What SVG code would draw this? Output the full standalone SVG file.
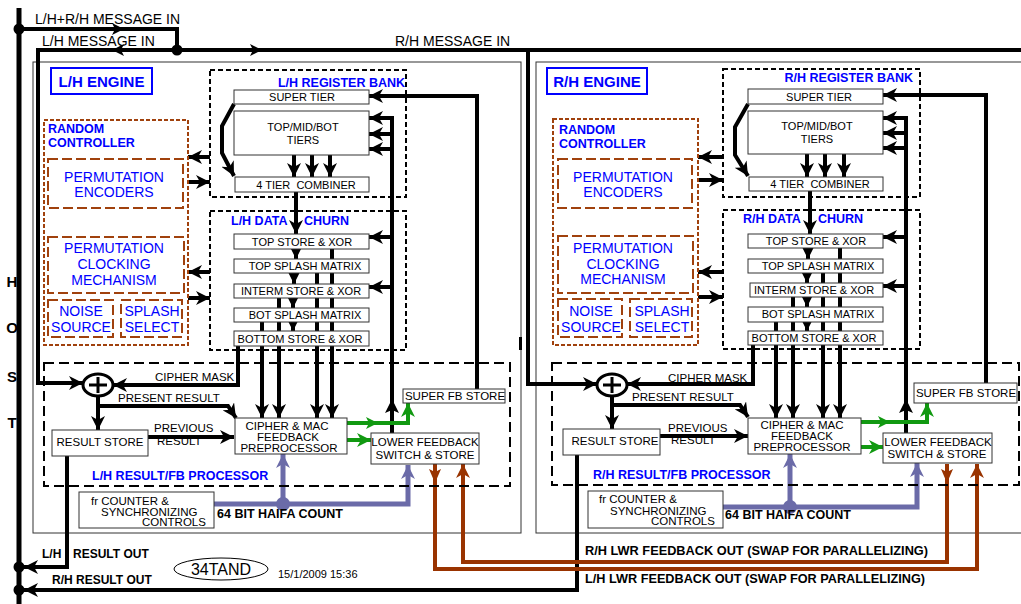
<svg xmlns="http://www.w3.org/2000/svg" width="1021" height="604" viewBox="0 0 1021 604">
<style>
text{font-family:"Liberation Sans",Arial,sans-serif;fill:#000}
.s{font-size:11px}
.m{font-size:11.5px}
.h{font-size:14px}
.c{text-anchor:middle}
.e{text-anchor:end}
.b{font-weight:bold;fill:#0000ff;font-size:12.5px}
.eng{font-weight:bold;fill:#0000ff;font-size:15px;text-anchor:middle}
.bk{font-weight:bold;font-size:12.5px}
.host{font-weight:bold;font-size:15px;text-anchor:middle}
.bo{font-weight:bold;font-size:12px}
.pb{font-size:14px;fill:#0000ff;text-anchor:middle}
.bx{fill:#fff;stroke:#333;stroke-width:1}
.eb{fill:none;stroke:#333;stroke-width:1}
.lb{fill:none;stroke:#0000ff;stroke-width:2}
.dk{fill:none;stroke:#000;stroke-width:2;stroke-dasharray:5,3}
.dr{fill:none;stroke:#000;stroke-width:2;stroke-dasharray:10,5}
.rc{fill:none;stroke:#a0410d;stroke-width:2;stroke-dasharray:4,2}
.ri{fill:none;stroke:#a0410d;stroke-width:2;stroke-dasharray:10,4}
.k{fill:none;stroke:#000;stroke-width:4}
.ka{fill:none;stroke:#000;stroke-width:4;marker-end:url(#a)}
.ga{fill:none;stroke:#119911;stroke-width:4;marker-end:url(#ag)}
.pa{fill:none;stroke:#6b6ba8;stroke-width:5;marker-end:url(#ap)}
.ba{fill:none;stroke:#993300;stroke-width:4;marker-end:url(#ab)}
.xor{fill:#fff;stroke:#000;stroke-width:3}
</style>
<defs>
<marker id="a" viewBox="0 0 14 14" refX="14" refY="7" markerWidth="14" markerHeight="14" markerUnits="userSpaceOnUse" orient="auto"><path d="M0,0 L14,7 L0,14 L4,7z" fill="#000"/></marker>
<marker id="ag" viewBox="0 0 14 14" refX="14" refY="7" markerWidth="14" markerHeight="14" markerUnits="userSpaceOnUse" orient="auto"><path d="M0,0 L14,7 L0,14 L4,7z" fill="#119911"/></marker>
<marker id="ap" viewBox="0 0 14 14" refX="14" refY="7" markerWidth="14" markerHeight="14" markerUnits="userSpaceOnUse" orient="auto"><path d="M0,0 L14,7 L0,14 L4,7z" fill="#6b6ba8"/></marker>
<marker id="ab" viewBox="0 0 14 14" refX="14" refY="7" markerWidth="14" markerHeight="14" markerUnits="userSpaceOnUse" orient="auto"><path d="M0,0 L14,7 L0,14 L4,7z" fill="#993300"/></marker>
</defs>
<rect width="1021" height="604" fill="#fff"/>

<!-- engine frames (background) -->
<g id="lh-engine-frame"><rect class="eb" x="33" y="62" width="488" height="471"/><rect x="519" y="337" width="3" height="13" fill="#000"/></g>
<g id="rh-engine-frame"><rect class="eb" x="536" y="62" width="495" height="471"/></g>

<!-- connectors -->
<g id="connectors">
<path d="M19,8 V604" fill="none" stroke="#000" stroke-width="5"/>
<path class="k" d="M19,29 H177 V50"/>
<path class="ka" d="M177,50 H38 V383 H83"/>
<path class="k" d="M177,50 H1021"/>
<path class="ka" d="M528,50 V384 H597"/>
<polygon points="124,29 112,23 115,29 112,35"/>
<polygon points="112,50 124,44 121,50 124,56"/>
<polygon points="262,50 250,44 253,50 250,56"/>
<circle cx="19" cy="29" r="5.5"/><circle cx="177" cy="50" r="5.5"/>
<circle cx="19" cy="567" r="5.5"/><circle cx="19" cy="590" r="5.5"/>
<path class="ka" d="M67,456 V567 H24"/>
<path class="ka" d="M577,455 V590 H24"/>

<!-- L/H internal -->
<path class="ka" d="M238,346 V385 H113"/>
<path class="ka" d="M98,396 V430"/>
<path class="ka" d="M98,406 H228 L236,418"/>
<path class="ka" d="M148,437 H234"/>
<path class="ka" d="M262,322 V418"/>
<path class="ka" d="M279,298 V418"/>
<path class="ka" d="M317,273 V418"/>
<path class="ka" d="M332,249 V418"/>
<path class="ka" d="M296,192 V234"/>
<path class="ka" d="M296,249 V259"/>
<path class="ka" d="M294,273 V284"/>
<path class="ka" d="M293,298 V308"/>
<path class="ka" d="M293,322 V331"/>
<path class="ka" d="M294,155 V177"/>
<path class="ka" d="M312,155 V177"/>
<path class="ka" d="M330,155 V177"/>
<path class="ka" d="M234,104 L222,126 V153 L234,176"/>
<path class="ka" d="M392,433 V118 H369"/>
<path class="ka" d="M392,134 H369"/>
<path class="ka" d="M392,149 H369"/>
<path class="ka" d="M392,237 H369"/>
<path class="ka" d="M392,287 H369"/>
<polygon points="392,399 385,413 392,410 399,413"/>
<path class="ka" d="M477,389 V96 H369"/>
<path class="ka" d="M210,157 H188"/>
<path class="ka" d="M188,182 H210"/>
<path class="ka" d="M210,272 H188"/>
<path class="ka" d="M188,298 H210"/>
<path class="ga" d="M347,423 H408 V403"/>
<polygon points="378,423 366,417 369,423 366,429" fill="#119911"/>
<path class="ga" d="M347,440 H371"/>
<path class="pa" d="M214,504 H408 V465"/>
<path class="pa" d="M283,504 V454"/>
<circle cx="283" cy="504" r="7" fill="#6b6ba8"/>

<!-- brown swap lines -->
<path class="ba" d="M435,464 V569 H977 V464"/>
<polygon points="435,483 429,469 435,472 441,469" fill="#993300"/>
<path class="ba" d="M947,464 V562 H463 V464"/>
<polygon points="947,483 941,469 947,472 953,469" fill="#993300"/>

<!-- R/H internal -->
<path class="ka" d="M753,345 V384 H627"/>
<path class="ka" d="M612,395 V429"/>
<path class="ka" d="M612,405 H740 L748,417"/>
<path class="ka" d="M660,436 H748"/>
<path class="ka" d="M776,322 V418"/>
<path class="ka" d="M793,297 V418"/>
<path class="ka" d="M823,273 V418"/>
<path class="ka" d="M840,248 V418"/>
<path class="ka" d="M810,191 V234"/>
<path class="ka" d="M808,248 V259"/>
<path class="ka" d="M807,273 V283"/>
<path class="ka" d="M807,297 V307"/>
<path class="ka" d="M807,322 V331"/>
<path class="ka" d="M807,154 V177"/>
<path class="ka" d="M825,154 V177"/>
<path class="ka" d="M844,154 V177"/>
<path class="ka" d="M748,104 L735,127 V155 L748,176"/>
<path class="ka" d="M906,433 V118 H883"/>
<path class="ka" d="M906,133 H883"/>
<path class="ka" d="M906,148 H883"/>
<path class="ka" d="M906,237 H883"/>
<path class="ka" d="M906,286 H883"/>
<polygon points="906,399 899,413 906,410 913,413"/>
<path class="ka" d="M986,383 V95 H883"/>
<path class="ka" d="M723,157 H698"/>
<path class="ka" d="M698,180 H723"/>
<path class="ka" d="M723,272 H698"/>
<path class="ka" d="M698,297 H723"/>
<path class="ga" d="M861,422 H927 V403"/>
<polygon points="890,422 878,416 881,422 878,428" fill="#119911"/>
<path class="ga" d="M861,447 H883"/>
<path class="pa" d="M723,507 H917 V463"/>
<path class="pa" d="M790,507 V454"/>
<circle cx="790" cy="507" r="7" fill="#6b6ba8"/>
</g>

<!-- free texts -->
<g id="labels">
<text class="h" x="35" y="24">L/H+R/H MESSAGE IN</text>
<text class="h" x="42" y="46">L/H MESSAGE IN</text>
<text class="h" x="395" y="46">R/H MESSAGE IN</text>
<text class="host" x="12" y="287">H</text>
<text class="host" x="12" y="333">O</text>
<text class="host" x="12" y="382">S</text>
<text class="host" x="12" y="428">T</text>
<text class="bo" y="558"><tspan x="42">L/H</tspan><tspan x="73">RESULT OUT</tspan></text>
<text class="bo" x="52" y="584">R/H RESULT OUT</text>
<text class="bo" x="585" y="555" textLength="343" lengthAdjust="spacingAndGlyphs">R/H LWR FEEDBACK OUT (SWAP FOR PARALLELIZING)</text>
<text class="bo" x="585" y="583" textLength="340" lengthAdjust="spacingAndGlyphs">L/H LWR FEEDBACK OUT (SWAP FOR PARALLELIZING)</text>
<text class="s" x="278" y="578">15/1/2009 15:36</text>
</g>
<g id="stamp"><ellipse cx="221" cy="569" rx="47" ry="11" fill="#fff" stroke="#000" stroke-width="1"/><text x="221" y="575" class="c" font-size="16">34TAND</text></g>

<!-- L/H nodes -->
<g id="lh-engine-label"><rect class="lb" x="51" y="68" width="101" height="26"/><text class="eng" x="101.5" y="87">L/H ENGINE</text></g>
<g id="lh-register-bank"><rect class="dk" x="210" y="70" width="196" height="127"/><text class="b e" x="405" y="87">L/H REGISTER BANK</text></g>
<g id="lh-super-tier"><rect class="bx" x="234" y="90" width="135" height="14"/><text class="s c" x="302" y="101">SUPER TIER</text></g>
<g id="lh-tiers"><rect class="bx" x="234" y="111" width="135" height="44"/><text class="s c" x="303" y="131">TOP/MID/BOT</text><text class="s c" x="303" y="144">TIERS</text></g>
<g id="lh-combiner"><rect class="bx" x="235" y="177" width="134" height="15"/><text class="s c" x="306" y="189" xml:space="preserve">4 TIER  COMBINER</text></g>
<g id="lh-data-churn"><rect class="dk" x="210" y="211" width="196" height="139"/><text class="b" y="225"><tspan x="231">L/H DATA</tspan><tspan x="304">CHURN</tspan></text></g>
<g id="lh-top-store"><rect class="bx" x="234" y="234" width="135" height="15"/><text class="s c" x="302" y="246">TOP STORE &amp; XOR</text></g>
<g id="lh-top-splash"><rect class="bx" x="234" y="259" width="135" height="14"/><text class="s c" x="305" y="270">TOP SPLASH MATRIX</text></g>
<g id="lh-interm-store"><rect class="bx" x="234" y="284" width="135" height="14"/><text class="s c" x="301" y="295">INTERM STORE &amp; XOR</text></g>
<g id="lh-bot-splash"><rect class="bx" x="234" y="308" width="135" height="14"/><text class="s c" x="305" y="319">BOT SPLASH MATRIX</text></g>
<g id="lh-bottom-store"><rect class="bx" x="234" y="331" width="135" height="15"/><text class="s c" x="300" y="343">BOTTOM STORE &amp; XOR</text></g>
<g id="lh-random-controller"><rect class="rc" x="44" y="120" width="144" height="225"/><text class="b" x="48" y="133">RANDOM</text><text class="b" x="48" y="147">CONTROLLER</text></g>
<g id="lh-perm-encoders"><rect class="ri" x="48" y="159" width="135" height="49"/><text class="pb" x="114" y="182">PERMUTATION</text><text class="pb" x="114" y="197">ENCODERS</text></g>
<g id="lh-perm-clocking"><rect class="ri" x="48" y="237" width="136" height="56"/><text class="pb" x="114" y="253">PERMUTATION</text><text class="pb" x="114" y="269">CLOCKING</text><text class="pb" x="114" y="285">MECHANISM</text></g>
<g id="lh-noise"><rect class="ri" x="48" y="300" width="65" height="37"/><text class="pb" x="81" y="316">NOISE</text><text class="pb" x="81" y="332">SOURCE</text></g>
<g id="lh-splash-select"><rect class="ri" x="121" y="300" width="61" height="37"/><text class="pb" x="152" y="316">SPLASH</text><text class="pb" x="152" y="332">SELECT</text></g>
<g id="lh-result-fb"><rect class="dr" x="44" y="363" width="466" height="123"/><text class="b" x="92" y="480">L/H RESULT/FB PROCESSOR</text>
<text class="m" x="155" y="381">CIPHER MASK</text><text class="m" x="118" y="402">PRESENT RESULT</text><text class="m" x="154" y="432">PREVIOUS</text><text class="m" x="157" y="445">RESULT</text></g>
<g id="lh-xor"><ellipse class="xor" cx="98" cy="385" rx="15" ry="11"/><path d="M98,377 V393 M89,385 H107" stroke="#000" stroke-width="3"/></g>
<g id="lh-result-store"><rect class="bx" x="52" y="430" width="96" height="26"/><text class="m c" x="100" y="446">RESULT STORE</text></g>
<g id="lh-cipher"><rect class="bx" x="235" y="418" width="112" height="36"/><text class="m c" x="287" y="430">CIPHER &amp; MAC</text><text class="m c" x="288" y="441">FEEDBACK</text><text class="m c" x="289" y="452">PREPROCESSOR</text></g>
<g id="lh-lower-fb"><rect class="bx" x="371" y="433" width="108" height="31"/><text class="m c" x="425" y="446">LOWER FEEDBACK</text><text class="m c" x="425" y="459">SWITCH &amp; STORE</text></g>
<g id="lh-super-fb"><rect class="bx" x="403" y="389" width="102" height="14"/><text class="m c" x="455" y="400">SUPER FB STORE</text></g>
<g id="lh-fr-counter"><rect class="bx" x="79" y="492" width="135" height="36"/><text class="m" x="91" y="505">fr COUNTER &amp;</text><text class="m" x="101" y="516">SYNCHRONIZING</text><text class="m" x="142" y="526">CONTROLS</text></g>
<text class="bk" x="217" y="518">64 BIT HAIFA COUNT</text>

<!-- R/H nodes -->
<g id="rh-engine-label"><rect class="lb" x="547" y="68" width="100" height="26"/><text class="eng" x="597" y="87">R/H ENGINE</text></g>
<g id="rh-register-bank"><rect class="dk" x="723" y="69" width="197" height="128"/><text class="b e" x="913" y="82">R/H REGISTER BANK</text></g>
<g id="rh-super-tier"><rect class="bx" x="748" y="89" width="135" height="15"/><text class="s c" x="819" y="101">SUPER TIER</text></g>
<g id="rh-tiers"><rect class="bx" x="748" y="111" width="135" height="43"/><text class="s c" x="817" y="130">TOP/MID/BOT</text><text class="s c" x="817" y="143">TIERS</text></g>
<g id="rh-combiner"><rect class="bx" x="749" y="177" width="134" height="14"/><text class="s c" x="820" y="188" xml:space="preserve">4 TIER  COMBINER</text></g>
<g id="rh-data-churn"><rect class="dk" x="723" y="210" width="197" height="139"/><text class="b" y="223"><tspan x="743">R/H DATA</tspan><tspan x="818">CHURN</tspan></text></g>
<g id="rh-top-store"><rect class="bx" x="748" y="234" width="135" height="14"/><text class="s c" x="816" y="245">TOP STORE &amp; XOR</text></g>
<g id="rh-top-splash"><rect class="bx" x="748" y="259" width="135" height="14"/><text class="s c" x="818" y="270">TOP SPLASH MATRIX</text></g>
<g id="rh-interm-store"><rect class="bx" x="750" y="283" width="133" height="14"/><text class="s c" x="814" y="294">INTERM STORE &amp; XOR</text></g>
<g id="rh-bot-splash"><rect class="bx" x="748" y="307" width="135" height="15"/><text class="s c" x="818" y="318">BOT SPLASH MATRIX</text></g>
<g id="rh-bottom-store"><rect class="bx" x="748" y="331" width="135" height="14"/><text class="s c" x="814" y="342">BOTTOM STORE &amp; XOR</text></g>
<g id="rh-random-controller"><rect class="rc" x="553" y="119" width="145" height="226"/><text class="b" x="559" y="134">RANDOM</text><text class="b" x="559" y="148">CONTROLLER</text></g>
<g id="rh-perm-encoders"><rect class="ri" x="558" y="159" width="134" height="49"/><text class="pb" x="623" y="182">PERMUTATION</text><text class="pb" x="623" y="197">ENCODERS</text></g>
<g id="rh-perm-clocking"><rect class="ri" x="558" y="236" width="135" height="57"/><text class="pb" x="623" y="253">PERMUTATION</text><text class="pb" x="623" y="269">CLOCKING</text><text class="pb" x="623" y="284">MECHANISM</text></g>
<g id="rh-noise"><rect class="ri" x="558" y="299" width="64" height="38"/><text class="pb" x="591" y="316">NOISE</text><text class="pb" x="591" y="332">SOURCE</text></g>
<g id="rh-splash-select"><rect class="ri" x="630" y="299" width="62" height="38"/><text class="pb" x="662" y="316">SPLASH</text><text class="pb" x="662" y="332">SELECT</text></g>
<g id="rh-result-fb"><rect class="dr" x="552" y="363" width="467" height="122"/><text class="b" x="593" y="479">R/H RESULT/FB PROCESSOR</text>
<text class="m" x="668" y="382">CIPHER MASK</text><text class="m" x="632" y="401">PRESENT RESULT</text><text class="m" x="668" y="432">PREVIOUS</text><text class="m" x="671" y="444">RESULT</text></g>
<g id="rh-xor"><ellipse class="xor" cx="612" cy="385" rx="15" ry="11"/><path d="M612,377 V393 M603,385 H621" stroke="#000" stroke-width="3"/></g>
<g id="rh-result-store"><rect class="bx" x="563" y="429" width="97" height="26"/><text class="m c" x="615" y="445">RESULT STORE</text></g>
<g id="rh-cipher"><rect class="bx" x="748" y="418" width="113" height="36"/><text class="m c" x="802" y="429">CIPHER &amp; MAC</text><text class="m c" x="802" y="440">FEEDBACK</text><text class="m c" x="802" y="451">PREPROCESSOR</text></g>
<g id="rh-lower-fb"><rect class="bx" x="883" y="433" width="109" height="30"/><text class="m c" x="938" y="446">LOWER FEEDBACK</text><text class="m c" x="937" y="458">SWITCH &amp; STORE</text></g>
<g id="rh-super-fb"><rect class="bx" x="914" y="383" width="103" height="20"/><text class="m c" x="966" y="397">SUPER FB STORE</text></g>
<g id="rh-fr-counter"><rect class="bx" x="588" y="491" width="135" height="37"/><text class="m" x="599" y="503">fr COUNTER &amp;</text><text class="m" x="610" y="515">SYNCHRONIZING</text><text class="m" x="651" y="525">CONTROLS</text></g>
<text class="bk" x="725" y="519">64 BIT HAIFA COUNT</text>
</svg>
